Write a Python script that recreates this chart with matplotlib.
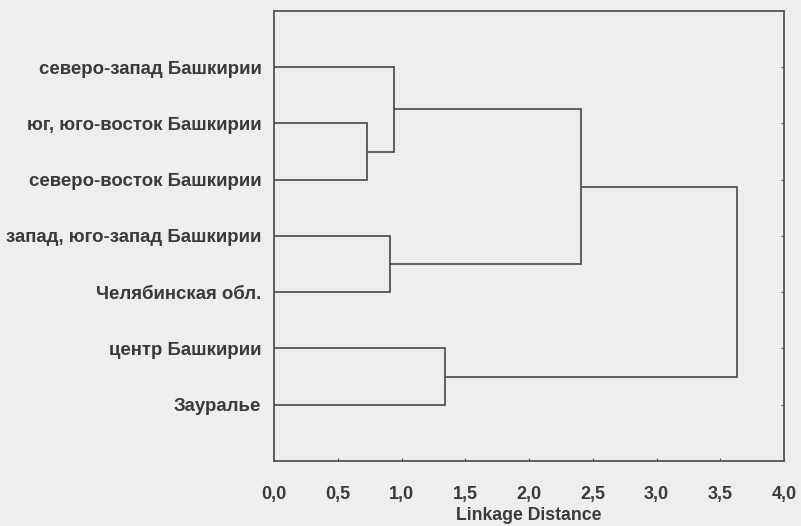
import matplotlib
matplotlib.use("Agg")
import matplotlib.pyplot as plt

# Dendrogram data (leaf order top to bottom, merges with linkage distance)
leaves = ["северо-запад Башкирии", "юг, юго-восток Башкирии", "северо-восток Башкирии",
          "запад, юго-запад Башкирии", "Челябинская обл.", "центр Башкирии", "Зауралье"]
# (left node, right node, distance); nodes >= 7 are earlier clusters
merges = [(1, 2, 0.73),
          (0, 7, 0.945),
          (3, 4, 0.91),
          (8, 9, 2.41),
          (5, 6, 1.34),
          (10, 11, 3.63)]
xticks = [0.0, 0.5, 1.0, 1.5, 2.0, 2.5, 3.0, 3.5, 4.0]
xticklabels = ["0,0", "0,5", "1,0", "1,5", "2,0", "2,5", "3,0", "3,5", "4,0"]

bg = "#eeeeee"
line_col = "#555555"
text_col = "#3a3a3a"

plt.rcParams["font.family"] = ["Liberation Sans", "DejaVu Sans"]

fig = plt.figure(figsize=(8.01, 5.26), dpi=100, facecolor=bg)
ax = fig.add_axes([0.342, 0.1236, 0.637, 0.8555])
ax.set_facecolor(bg)

# node positions: (y, height)
pos = {i: (i + 1, 0.0) for i in range(len(leaves))}
n = len(leaves)
for k, (a, b, d) in enumerate(merges):
    ya, ha = pos[a]
    yb, hb = pos[b]
    ax.plot([ha, d, d, hb], [ya, ya, yb, yb], color=line_col, lw=1.3, solid_joinstyle="miter")
    pos[n + k] = ((ya + yb) / 2, d)

ax.set_xlim(0, 4)
ax.set_ylim(len(leaves) + 1, 0)
ax.set_yticks(range(1, n + 1))
ax.set_yticklabels(leaves)
ax.set_xticks(xticks)
ax.set_xticklabels(xticklabels)
ax.tick_params(axis="y", direction="in", length=2, width=0.8, color=line_col,
               pad=9, labelsize=13.4, labelcolor=text_col, right=True, left=False)
ax.tick_params(axis="x", direction="in", length=2, width=0.8, color=line_col,
               pad=18, labelsize=13, labelcolor=text_col)
for lbl in ax.get_yticklabels() + ax.get_xticklabels():
    lbl.set_fontweight("bold")
for s in ax.spines.values():
    s.set_color(line_col)
    s.set_linewidth(1.3)
ax.set_xlabel("Linkage Distance", fontsize=12.7, fontweight="bold", color=text_col, labelpad=3)

fig.savefig("out.png", dpi=100, facecolor=bg)
